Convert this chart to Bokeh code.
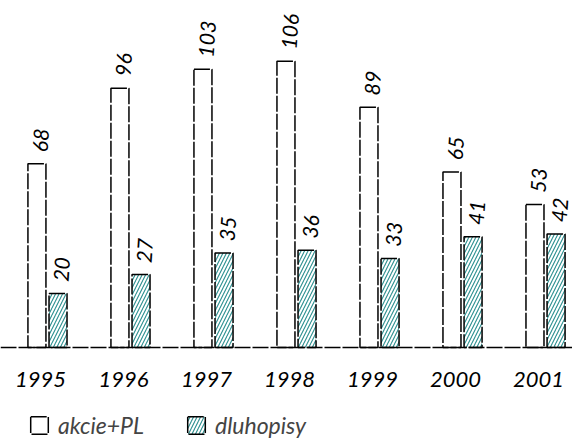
from bokeh.plotting import figure
from bokeh.models import ColumnDataSource, LabelSet, Legend, LegendItem, Range1d, Span
from bokeh.core.properties import value
from bokeh.transform import dodge
from bokeh.embed import file_html
from bokeh.resources import INLINE

years = ["1995", "1996", "1997", "1998", "1999", "2000", "2001"]
akcie = [68, 96, 103, 106, 89, 65, 53]
dluhopisy = [20, 27, 35, 36, 33, 41, 42]
series_names = ["akcie+PL", "dluhopisy"]

FONT = "Lato"
TEAL = "#2a8f8f"

xs = list(range(len(years)))
src = ColumnDataSource(dict(
    x=xs, year=years, akcie=akcie, dluhopisy=dluhopisy,
    akcie_lbl=[str(v) for v in akcie], dluh_lbl=[str(v) for v in dluhopisy],
))

p = figure(frame_width=572, frame_height=439, output_backend="svg", toolbar_location=None,
           x_range=Range1d(-0.566, 6.325), y_range=Range1d(-34.07, 128.5),
           min_border_left=0, min_border_right=0, min_border_top=0, min_border_bottom=0)
p.xaxis.visible = False
p.yaxis.visible = False
p.xgrid.visible = False
p.ygrid.visible = False
p.outline_line_color = None

off = 0.127
w = 0.217
r1 = p.vbar(x=dodge("x", -off), top="akcie", bottom=0, width=w, source=src,
            fill_color="white", line_color="black", line_width=1.5, line_dash="16 2")
r2 = p.vbar(x=dodge("x", off), top="dluhopisy", bottom=0, width=w, source=src,
            fill_color="white", line_color="black", line_width=1.5, line_dash="16 2",
            hatch_pattern="right_diagonal_line", hatch_color=TEAL, hatch_scale=7,
            hatch_weight=1.1)

# baseline
p.add_layout(Span(location=0, dimension="width", line_color="black",
                  line_width=1.6, line_dash="16 2"))

for col, lbl, o in (("akcie", "akcie_lbl", -off), ("dluhopisy", "dluh_lbl", off)):
    p.add_layout(LabelSet(x=dodge("x", o), y=col, text=lbl, source=src,
                          angle=1.5, text_align="left", text_baseline="middle",
                          x_offset=3, y_offset=12, text_font=value(FONT),
                          text_font_style="italic", text_font_size="21px",
                          text_color="black"))

# category (year) labels under the baseline
p.add_layout(LabelSet(x="x", y=0, text="year", source=src,
                      text_align="center", text_baseline="middle",
                      x_offset=-7, y_offset=-32, text_font=value(FONT),
                      text_font_style="italic", text_font_size="22px",
                      text_color="black"))

legend = Legend(items=[LegendItem(label=series_names[0], renderers=[r1]),
                       LegendItem(label=series_names[1], renderers=[r2])],
                orientation="horizontal", location=(28, 0),
                label_text_font=FONT, label_text_font_style="italic",
                label_text_font_size="23px", glyph_width=22, glyph_height=22,
                spacing=41, padding=0, margin=0, border_line_color=None,
                background_fill_alpha=0, label_standoff=8)
p.add_layout(legend)

open("out.html", "w").write(file_html(p, INLINE))
